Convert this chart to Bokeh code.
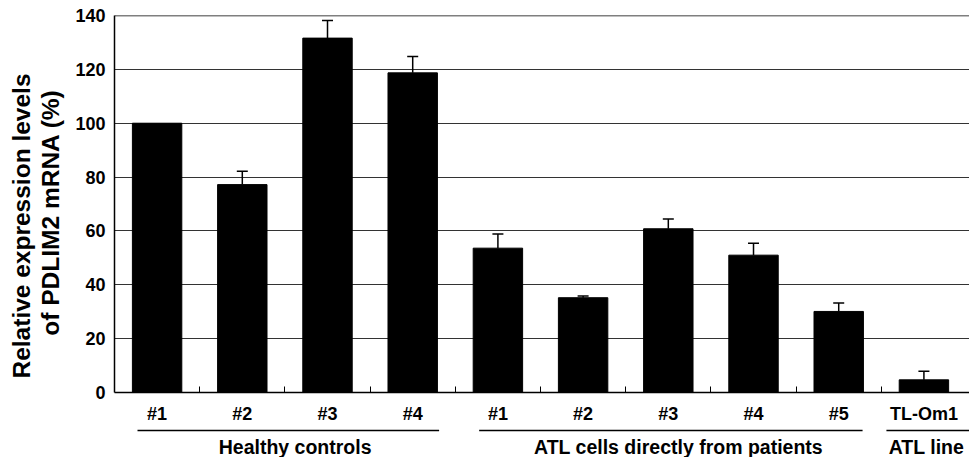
import math
from bokeh.plotting import figure
from bokeh.models import (Range1d, FixedTicker, ColumnDataSource, Whisker, TeeHead,
                          Span, CustomJSTickFormatter)
from bokeh.layouts import column, row
from bokeh.embed import file_html
from bokeh.resources import INLINE
from bokeh.core.properties import value

# ---------------- data ----------------
categories = ["#1", "#2", "#3", "#4", "#1", "#2", "#3", "#4", "#5", "TL-Om1"]
expression = [100.0, 77.2, 131.6, 118.7, 53.6, 35.2, 60.8, 51.0, 30.1, 4.7]
error_up = [0.0, 5.0, 6.5, 6.1, 5.3, 0.6, 3.6, 4.4, 3.1, 3.2]
groups = ["Healthy controls", "ATL cells directly from patients", "ATL line"]
group_sizes = [4, 5, 1]
y_ticks = [0, 20, 40, 60, 80, 100, 120, 140]
y_label_lines = ["Relative expression levels", "of PDLIM2 mRNA (%)"]

# ---------------- styles ----------------
FONT = "Liberation Sans"
line_pad_left = [0.27, 0.28, 0.06]
line_pad_right = [0.19, 0.22, -0.6]
group_text_shift = [0.12, 0.12, 0.03]
LABEL_W = 72
TOTAL_H = 457
MAIN_H = 428

n = len(categories)
xs = [i + 0.5 for i in range(n)]
bounds = [i for i in range(1, n)]

# ---------------- y-axis title strip ----------------
pl = figure(width=LABEL_W, height=TOTAL_H, x_range=Range1d(0, LABEL_W),
            y_range=Range1d(0, TOTAL_H), min_border=0,
            x_axis_location=None, y_axis_location=None,
            toolbar_location=None, output_backend="svg")
pl.outline_line_color = None
pl.grid.visible = False
pl.text(x=[21, 49.5], y=[TOTAL_H - 225.5, TOTAL_H - 212], text=y_label_lines,
        angle=math.pi / 2, text_align="center", text_baseline="middle",
        text_font=value(FONT), text_font_style="bold", text_font_size="24.5px",
        text_color="black")

# ---------------- main chart ----------------
p = figure(width=969 - LABEL_W, height=MAIN_H, x_range=Range1d(0, 10.035), y_range=Range1d(0, 140),
           min_border_left=113 - LABEL_W, min_border_right=0, min_border_top=15,
           min_border_bottom=36, toolbar_location=None, output_backend="svg")
p.outline_line_color = None
p.background_fill_color = "white"

src = ColumnDataSource(dict(x=xs, top=expression))
p.vbar(x="x", top="top", bottom=0, width=0.58, source=src,
       fill_color="black", line_color="black", line_width=1)

esrc = ColumnDataSource(dict(
    x=[x for x, e in zip(xs, error_up) if e > 0],
    lower=[v for v, e in zip(expression, error_up) if e > 0],
    upper=[v + e for v, e in zip(expression, error_up) if e > 0]))
p.add_layout(Whisker(source=esrc, base="x", lower="lower", upper="upper", dimension="height",
                     line_color="black", line_width=1.5,
                     upper_head=TeeHead(size=11, line_width=1.5, line_color="black"),
                     lower_head=None))

# y axis
p.yaxis.ticker = FixedTicker(ticks=y_ticks)
p.ygrid.ticker = FixedTicker(ticks=y_ticks)
p.ygrid.grid_line_color = "#333333"
p.ygrid.grid_line_width = 1
p.xgrid.visible = False
p.yaxis.axis_line_color = "black"
p.yaxis.axis_line_width = 1.5
p.yaxis.major_tick_in = 0
p.yaxis.major_tick_out = 0
p.yaxis.minor_tick_line_color = None
p.yaxis.major_label_standoff = 9
p.yaxis.major_label_text_font = FONT
p.yaxis.major_label_text_font_style = "bold"
p.yaxis.major_label_text_font_size = "18px"
p.yaxis.major_label_text_color = "black"

# x axis
p.xaxis.ticker = FixedTicker(ticks=xs, minor_ticks=bounds)
p.xaxis.formatter = CustomJSTickFormatter(args=dict(labels=categories),
                                          code="return labels[Math.floor(tick)];")
p.xaxis.axis_line_color = "black"
p.xaxis.axis_line_width = 1.5
p.xaxis.major_tick_in = 0
p.xaxis.major_tick_out = 0
p.xaxis.minor_tick_in = 6
p.xaxis.minor_tick_out = 0
p.xaxis.minor_tick_line_color = "black"
p.xaxis.minor_tick_line_width = 1
p.xaxis.major_label_standoff = 11
p.xaxis.major_label_text_font = FONT
p.xaxis.major_label_text_font_style = "bold"
p.xaxis.major_label_text_font_size = "18px"
p.xaxis.major_label_text_color = "black"

p.add_layout(Span(location=140, dimension="width", line_color="black", line_width=1.5))

# ---------------- group annotation strip ----------------
strip_h = TOTAL_H - MAIN_H
p2 = figure(width=969 - LABEL_W, height=strip_h, x_range=p.x_range, y_range=Range1d(strip_h, 0),
            min_border_left=113 - LABEL_W, min_border_right=0, min_border_top=0,
            min_border_bottom=0, x_axis_location=None, y_axis_location=None,
            toolbar_location=None, output_backend="svg")
p2.outline_line_color = None
p2.grid.visible = False

starts, ends, centers = [], [], []
acc = 0
for i, sz in enumerate(group_sizes):
    starts.append(acc + line_pad_left[i])
    ends.append(acc + sz - line_pad_right[i])
    centers.append(acc + sz / 2 + group_text_shift[i])
    acc += sz

p2.segment(x0=starts, x1=ends, y0=[2] * len(groups), y1=[2] * len(groups),
           line_color="black", line_width=1.5)
p2.text(x=centers, y=[18.5] * len(groups), text=groups,
        text_font=value(FONT), text_font_style="bold", text_font_size="19.5px",
        text_align="center", text_baseline="middle", text_color="black")

layout = row(pl, column(p, p2))
open("out.html", "w").write(file_html(layout, INLINE))
